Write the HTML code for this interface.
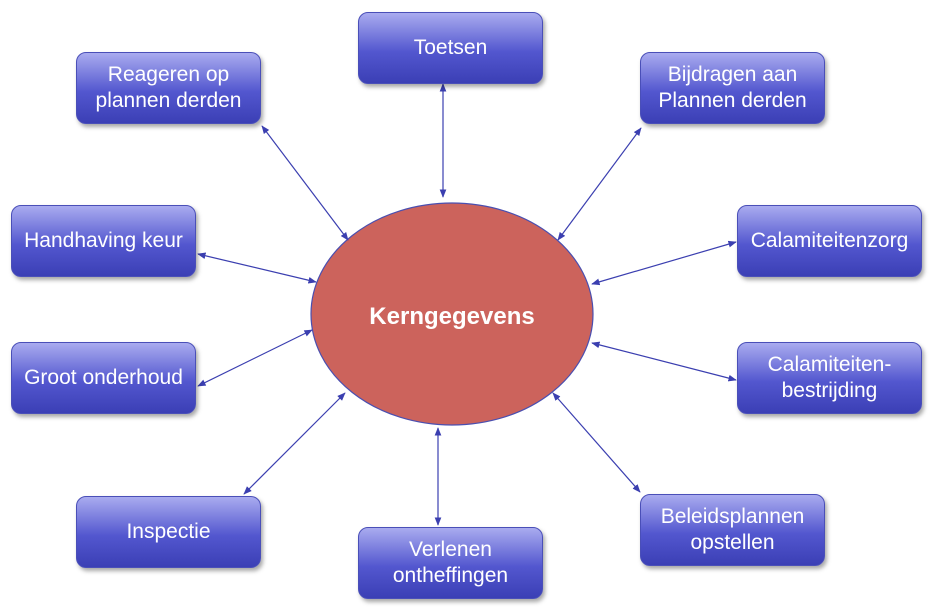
<!DOCTYPE html>
<html><head><meta charset="utf-8"><style>
body{margin:0;background:#fff;width:930px;height:610px;overflow:hidden;position:relative;font-family:"Liberation Sans",sans-serif}
.b{position:absolute;width:185px;height:72px;border-radius:10px;background:linear-gradient(#a9abef,#5357cf 55%,#3b3fb5);border:1px solid #4a4fb8;box-sizing:border-box;color:#fff;font-size:21px;line-height:26px;display:flex;align-items:center;justify-content:center;text-align:center;box-shadow:2px 3px 4px rgba(0,0,0,.35)}
svg{position:absolute;left:0;top:0}
</style></head><body>
<svg width="930" height="610">
<defs><marker id="a" viewBox="0 0 10 10" refX="9" refY="5" markerWidth="7" markerHeight="7" orient="auto-start-reverse"><path d="M0,1L10,5L0,9z" fill="#3b3fb0"/></marker></defs>
<ellipse cx="452" cy="314" rx="141" ry="111" fill="#cc635c" stroke="#4a4fb0" stroke-width="1.2"/>
<text x="452" y="324" text-anchor="middle" fill="#fff" font-family="Liberation Sans" font-weight="bold" font-size="24">Kerngegevens</text>
<g stroke="#3b3fb0" stroke-width="1.2" marker-start="url(#a)" marker-end="url(#a)">
<line x1="443" y1="84" x2="443" y2="197"/>
<line x1="262" y1="126" x2="348" y2="240"/>
<line x1="641" y1="128" x2="558" y2="240"/>
<line x1="198" y1="254" x2="316" y2="282"/>
<line x1="736" y1="242" x2="592" y2="284"/>
<line x1="198" y1="386" x2="312" y2="330"/>
<line x1="736" y1="380" x2="592" y2="343"/>
<line x1="244" y1="494" x2="345" y2="393"/>
<line x1="640" y1="492" x2="553" y2="393"/>
<line x1="438" y1="525" x2="438" y2="428"/>
</g></svg>
<div class="b" style="left:358px;top:12px">Toetsen</div>
<div class="b" style="left:76px;top:52px">Reageren op<br>plannen derden</div>
<div class="b" style="left:640px;top:52px">Bijdragen aan<br>Plannen derden</div>
<div class="b" style="left:11px;top:205px">Handhaving keur</div>
<div class="b" style="left:737px;top:205px">Calamiteitenzorg</div>
<div class="b" style="left:11px;top:342px">Groot onderhoud</div>
<div class="b" style="left:737px;top:342px">Calamiteiten-<br>bestrijding</div>
<div class="b" style="left:76px;top:496px">Inspectie</div>
<div class="b" style="left:640px;top:494px">Beleidsplannen<br>opstellen</div>
<div class="b" style="left:358px;top:527px">Verlenen<br>ontheffingen</div>
</body></html>
